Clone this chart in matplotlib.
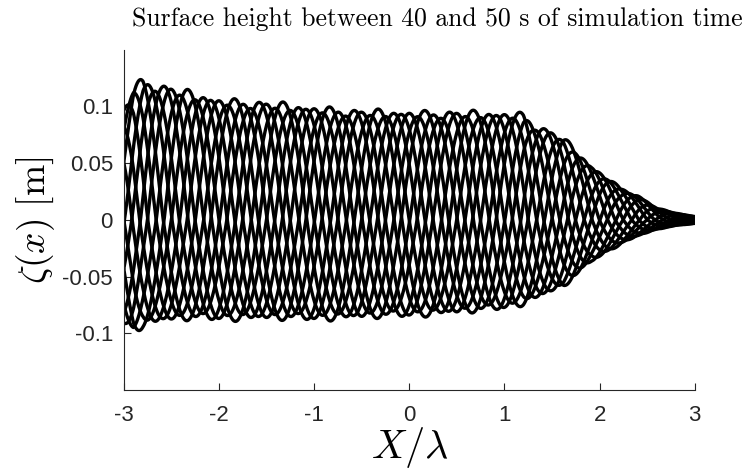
import numpy as np
import matplotlib
matplotlib.use('Agg')
import matplotlib.pyplot as plt

plt.rcParams['mathtext.fontset'] = 'cm'
plt.rcParams['font.family'] = ['Liberation Sans', 'DejaVu Sans']

# envelope of the surface elevation along the tank (X in wavelengths)
x_node = [-3.0, -2.9, -2.8, -2.6, -2.3, -2.0, -1.5, -1.0, -0.5, 0.0, 0.5,
          0.96, 1.2, 1.31, 1.62, 1.8, 1.91, 2.22, 2.4, 2.61, 2.8, 3.0]
crest = [0.097, 0.116, 0.122, 0.116, 0.110, 0.105, 0.101, 0.098, 0.094, 0.094, 0.093,
         0.093, 0.092, 0.083, 0.071, 0.056, 0.047, 0.028, 0.021, 0.010, 0.006, 0.003]
trough = [-0.090, -0.097, -0.092, -0.088, -0.086, -0.086, -0.086, -0.086, -0.085, -0.083, -0.081,
          -0.077, -0.073, -0.069, -0.058, -0.045, -0.036, -0.021, -0.014, -0.008, -0.005, -0.003]

# phase and gain of each saved snapshot (40 s .. 50 s)
snap_phase = [0.00, 0.55, 1.02, 1.60, 2.08, 2.66, 3.12, 3.70, 4.22, 4.70, 5.25, 5.74]
snap_gain = [1.00, 0.97, 1.03, 0.99, 0.96, 1.02, 1.01, 0.98, 1.04, 0.97, 1.00, 0.99]

X_LIM = (-3, 3)
Y_LIM = (-0.15, 0.15)
x_ticks = [-3, -2, -1, 0, 1, 2, 3]
y_ticks = [-0.1, -0.05, 0, 0.05, 0.1]
y_ticklabels = ['-0.1', '-0.05', '0', '0.05', '0.1']
x_ticklabels = ['-3', '-2', '-1', '0', '1', '2', '3']

fig = plt.figure(figsize=(7.47, 4.74), dpi=100)
ax = fig.add_axes([0.166, 0.177, 0.764, 0.718])

X = np.linspace(X_LIM[0], X_LIM[1], 3000)
up = np.interp(X, x_node, crest)
lo = -np.interp(X, x_node, trough)

for ph, g in zip(snap_phase, snap_gain):
    c = np.cos(2 * np.pi * X - ph)
    eta = g * np.where(c > 0, up * c, lo * c)
    ax.plot(X, eta, color='k', lw=2.4)

ax.set_xlim(*X_LIM)
ax.set_ylim(*Y_LIM)
ax.set_xticks(x_ticks)
ax.set_xticklabels(x_ticklabels)
ax.set_yticks(y_ticks)
ax.set_yticklabels(y_ticklabels)

ax.spines['top'].set_visible(False)
ax.spines['right'].set_visible(False)
for s in ('left', 'bottom'):
    ax.spines[s].set_color('#262626')
    ax.spines[s].set_linewidth(0.8)
ax.tick_params(direction='in', length=5, width=0.8, colors='#262626',
               labelsize=16)
ax.tick_params(axis='x', pad=11)
ax.tick_params(axis='y', pad=8)

ax.set_xlabel(r'$X/\lambda$', fontsize=29, labelpad=-1)
ax.set_ylabel(r'$\zeta(x)\ [\mathrm{m}]$', fontsize=27, labelpad=4)
fig.text(437 / 747, 1 - 26 / 474,
         'Surface height between 40 and 50 s of simulation time',
         fontsize=18.5, fontfamily='cmr10', ha='center', va='baseline')

fig.savefig('out.png', dpi=100)
